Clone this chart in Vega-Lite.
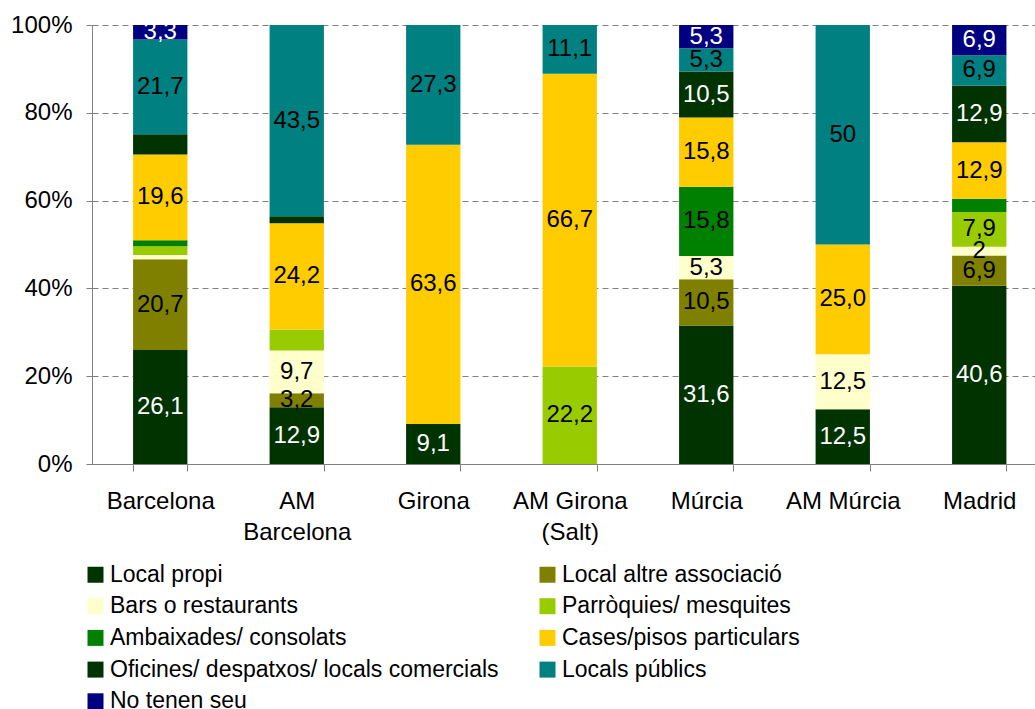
{
  "$schema": "https://vega.github.io/schema/vega-lite/v6.json",
  "width": 943,
  "height": 439,
  "autosize": {"type": "none"},
  "padding": {"left": 92, "top": 25, "right": 0, "bottom": 245},
  "background": "white",
  "config": {
    "view": {"stroke": null},
    "font": "Liberation Sans",
    "legend": {"padding": 0}
  },
  "data": {
    "values": [
      {"place": "Barcelona", "k": 1, "cat": "Local propi", "value": 26.1, "label": "26,1"},
      {"place": "Barcelona", "k": 2, "cat": "Local altre associació", "value": 20.7, "label": "20,7"},
      {"place": "Barcelona", "k": 3, "cat": "Bars o restaurants", "value": 1.0, "label": ""},
      {"place": "Barcelona", "k": 4, "cat": "Parròquies/ mesquites", "value": 2.0, "label": ""},
      {"place": "Barcelona", "k": 5, "cat": "Ambaixades/ consolats", "value": 1.4, "label": ""},
      {"place": "Barcelona", "k": 6, "cat": "Cases/pisos particulars", "value": 19.6, "label": "19,6"},
      {"place": "Barcelona", "k": 7, "cat": "Oficines/ despatxos/ locals comercials", "value": 4.6, "label": ""},
      {"place": "Barcelona", "k": 8, "cat": "Locals públics", "value": 21.7, "label": "21,7"},
      {"place": "Barcelona", "k": 9, "cat": "No tenen seu", "value": 3.3, "label": "3,3"},

      {"place": "AM Barcelona", "k": 1, "cat": "Local propi", "value": 12.9, "label": "12,9"},
      {"place": "AM Barcelona", "k": 2, "cat": "Local altre associació", "value": 3.2, "label": "3,2"},
      {"place": "AM Barcelona", "k": 3, "cat": "Bars o restaurants", "value": 9.7, "label": "9,7"},
      {"place": "AM Barcelona", "k": 4, "cat": "Parròquies/ mesquites", "value": 4.8, "label": ""},
      {"place": "AM Barcelona", "k": 6, "cat": "Cases/pisos particulars", "value": 24.2, "label": "24,2"},
      {"place": "AM Barcelona", "k": 7, "cat": "Oficines/ despatxos/ locals comercials", "value": 1.6, "label": ""},
      {"place": "AM Barcelona", "k": 8, "cat": "Locals públics", "value": 43.5, "label": "43,5"},

      {"place": "Girona", "k": 1, "cat": "Local propi", "value": 9.1, "label": "9,1"},
      {"place": "Girona", "k": 6, "cat": "Cases/pisos particulars", "value": 63.6, "label": "63,6"},
      {"place": "Girona", "k": 8, "cat": "Locals públics", "value": 27.3, "label": "27,3"},

      {"place": "AM Girona (Salt)", "k": 4, "cat": "Parròquies/ mesquites", "value": 22.2, "label": "22,2"},
      {"place": "AM Girona (Salt)", "k": 6, "cat": "Cases/pisos particulars", "value": 66.7, "label": "66,7"},
      {"place": "AM Girona (Salt)", "k": 8, "cat": "Locals públics", "value": 11.1, "label": "11,1"},

      {"place": "Múrcia", "k": 1, "cat": "Local propi", "value": 31.6, "label": "31,6"},
      {"place": "Múrcia", "k": 2, "cat": "Local altre associació", "value": 10.5, "label": "10,5"},
      {"place": "Múrcia", "k": 3, "cat": "Bars o restaurants", "value": 5.3, "label": "5,3"},
      {"place": "Múrcia", "k": 5, "cat": "Ambaixades/ consolats", "value": 15.8, "label": "15,8"},
      {"place": "Múrcia", "k": 6, "cat": "Cases/pisos particulars", "value": 15.8, "label": "15,8"},
      {"place": "Múrcia", "k": 7, "cat": "Oficines/ despatxos/ locals comercials", "value": 10.5, "label": "10,5"},
      {"place": "Múrcia", "k": 8, "cat": "Locals públics", "value": 5.3, "label": "5,3"},
      {"place": "Múrcia", "k": 9, "cat": "No tenen seu", "value": 5.3, "label": "5,3"},

      {"place": "AM Múrcia", "k": 1, "cat": "Local propi", "value": 12.5, "label": "12,5"},
      {"place": "AM Múrcia", "k": 3, "cat": "Bars o restaurants", "value": 12.5, "label": "12,5"},
      {"place": "AM Múrcia", "k": 6, "cat": "Cases/pisos particulars", "value": 25.0, "label": "25,0"},
      {"place": "AM Múrcia", "k": 8, "cat": "Locals públics", "value": 50, "label": "50"},

      {"place": "Madrid", "k": 1, "cat": "Local propi", "value": 40.6, "label": "40,6"},
      {"place": "Madrid", "k": 2, "cat": "Local altre associació", "value": 6.9, "label": "6,9"},
      {"place": "Madrid", "k": 3, "cat": "Bars o restaurants", "value": 2, "label": "2"},
      {"place": "Madrid", "k": 4, "cat": "Parròquies/ mesquites", "value": 7.9, "label": "7,9"},
      {"place": "Madrid", "k": 5, "cat": "Ambaixades/ consolats", "value": 3.0, "label": ""},
      {"place": "Madrid", "k": 6, "cat": "Cases/pisos particulars", "value": 12.9, "label": "12,9"},
      {"place": "Madrid", "k": 7, "cat": "Oficines/ despatxos/ locals comercials", "value": 12.9, "label": "12,9"},
      {"place": "Madrid", "k": 8, "cat": "Locals públics", "value": 6.9, "label": "6,9"},
      {"place": "Madrid", "k": 9, "cat": "No tenen seu", "value": 6.9, "label": "6,9"}
    ]
  },
  "layer": [
    {
      "mark": {"type": "bar"},
      "encoding": {
        "x": {
          "field": "place",
          "type": "nominal",
          "sort": ["Barcelona", "AM Barcelona", "Girona", "AM Girona (Salt)", "Múrcia", "AM Múrcia", "Madrid"],
          "scale": {"range": [0, 955.5], "paddingInner": 0.602, "paddingOuter": 0.301},
          "axis": {
            "title": null,
            "labelAngle": 0,
            "labelFontSize": 24,
            "labelColor": "black",
            "labelPadding": 18,
            "labelLineHeight": 31,
            "labelExpr": "datum.label == 'AM Barcelona' ? ['AM', 'Barcelona'] : datum.label == 'AM Girona (Salt)' ? ['AM Girona', '(Salt)'] : datum.label",
            "tickBand": "extent",
            "ticks": true,
            "tickSize": 7,
            "tickColor": "#808080",
            "domainColor": "#808080",
            "grid": false
          }
        },
        "y": {
          "field": "value",
          "type": "quantitative",
          "stack": "normalize",
          "scale": {"domain": [0, 1], "nice": false},
          "axis": {
            "title": null,
            "format": ".0%",
            "values": [0, 0.2, 0.4, 0.6, 0.8, 1],
            "labelFontSize": 24,
            "labelColor": "black",
            "labelPadding": 14,
            "tickSize": 6,
            "tickColor": "#808080",
            "domainColor": "#808080",
            "grid": true,
            "gridColor": "#808080",
            "gridDash": [6, 4],
            "gridWidth": 1
          }
        },
        "order": {"field": "k", "type": "quantitative"},
        "color": {
          "field": "cat",
          "type": "nominal",
          "scale": {
            "domain": ["Local propi", "Local altre associació", "Bars o restaurants", "Parròquies/ mesquites", "Ambaixades/ consolats", "Cases/pisos particulars", "Oficines/ despatxos/ locals comercials", "Locals públics", "No tenen seu"],
            "range": ["#003300", "#808000", "#FFFFCC", "#99CC00", "#008000", "#FFCC00", "#003300", "#008080", "#000080"]
          },
          "legend": {
            "title": null,
            "orient": "none",
            "direction": "horizontal",
            "legendX": -8,
            "legendY": 538,
            "columns": 2,
            "symbolType": "square",
            "symbolSize": 256,
            "symbolStrokeWidth": 0,
            "labelFontSize": 23,
            "labelColor": "black",
            "labelOffset": 3,
            "labelLimit": 600,
            "rowPadding": 7.7,
            "columnPadding": 37
          }
        }
      }
    },
    {
      "mark": {"type": "text", "fontSize": 24, "baseline": "middle", "align": "center"},
      "encoding": {
        "x": {
          "field": "place",
          "type": "nominal",
          "sort": ["Barcelona", "AM Barcelona", "Girona", "AM Girona (Salt)", "Múrcia", "AM Múrcia", "Madrid"]
        },
        "y": {
          "field": "value",
          "type": "quantitative",
          "stack": "normalize",
          "bandPosition": 0.5
        },
        "order": {"field": "k", "type": "quantitative"},
        "detail": {"field": "cat", "type": "nominal"},
        "text": {"field": "label", "type": "nominal"},
        "color": {
          "condition": {"test": "datum.k == 1 || datum.k == 7 || datum.k == 9", "value": "white"},
          "value": "black"
        }
      }
    }
  ]
}
